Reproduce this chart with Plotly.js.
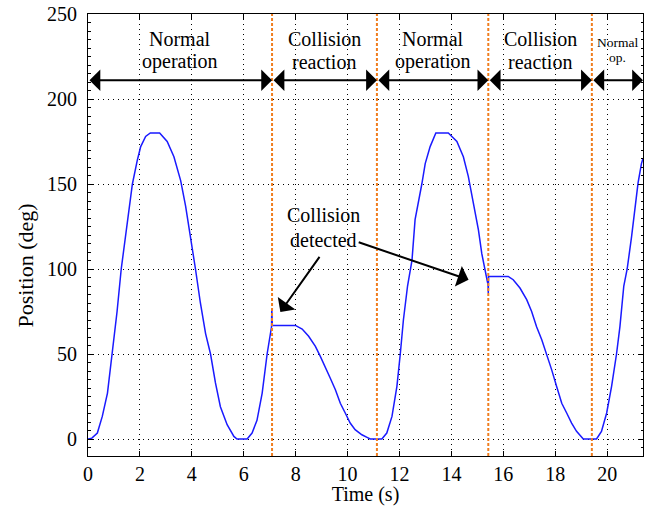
<!DOCTYPE html>
<html>
<head>
<meta charset="utf-8">
<script src="https://cdn.plot.ly/plotly-3.0.1.min.js"></script>
<style>html,body{margin:0;padding:0;background:#fff;}#chart{width:648px;height:506px;}</style>
</head>
<body>
<div id="chart"></div>
<script>
// ---- data ----
const timeS = [0, 0.15, 0.36, 0.55, 0.75, 0.94, 1.12, 1.28, 1.45, 1.60, 1.71, 1.90, 2.03, 2.22, 2.40, 2.76, 3.05, 3.31, 3.57, 3.76, 3.95, 4.14, 4.33, 4.53, 4.72, 4.91, 5.10, 5.36, 5.62, 5.74, 6.13, 6.32, 6.51, 6.71, 6.90, 7.03, 7.07, 7.08, 7.10, 7.99, 8.25, 8.50, 8.76, 8.95, 9.14, 9.33, 9.53, 9.72, 9.91, 10.10, 10.29, 10.55, 10.75, 10.87, 11.32, 11.51, 11.71, 11.90, 12.03, 12.15, 12.31, 12.48, 12.60, 12.73, 12.86, 12.99, 13.18, 13.40, 13.88, 14.21, 14.46, 14.65, 14.85, 15.04, 15.17, 15.30, 15.36, 15.41, 15.42, 15.43, 16.19, 16.38, 16.64, 16.90, 17.09, 17.28, 17.48, 17.67, 17.86, 18.05, 18.25, 18.44, 18.63, 18.82, 19.08, 19.59, 19.78, 19.98, 20.17, 20.36, 20.49, 20.64, 20.77, 20.94, 21.07, 21.19, 21.32, 21.38];
const positionDeg = [0, 0.5, 3.5, 13.3, 27, 50, 75, 100, 119, 139, 150, 164, 172, 178, 180, 180, 175, 166, 152, 137, 119, 100, 80, 62, 50, 33, 19, 8.4, 1.5, 0, 0, 3.5, 11, 27, 50, 62, 66, 76.5, 66.8, 66.8, 64.7, 60.4, 54.5, 48.6, 42.7, 35.9, 29, 21, 15.3, 9.4, 5.5, 2.5, 1, 0, 0, 3.5, 13.3, 31, 50, 70, 90, 105, 129, 139, 150, 162, 172, 180, 180, 175, 166, 154.5, 139, 123, 109, 100, 95.6, 90.7, 85.9, 95.6, 95.6, 93.7, 88.8, 82, 75, 66, 58.4, 50, 40.8, 31, 21, 15.3, 9.4, 4.5, 0, 0, 4.5, 15.3, 31, 50, 66, 90, 100, 119, 135, 150.6, 162, 165];

const phaseBounds = [0, 7.09, 11.13, 15.42, 19.41, 21.38];
const phaseLine1 = ["Normal", "Collision", "Normal", "Collision", "Normal"];
const phaseLine2 = ["operation", "reaction", "operation", "reaction", "op."];
const phaseSmall = [false, false, false, false, true];
const phaseArrowY = 211;

const xTickVals = [0, 2, 4, 6, 8, 10, 12, 14, 16, 18, 20];
const yTickVals = [0, 50, 100, 150, 200, 250];

const xTitle = "Time (s)";
const yTitle = "Position (deg)";
const yTitleCenter = 102;

const noteLines = ["Collision", "detected"];
const noteXY = [9.07, 132, 117];
// arrows: [tailX, tailY, tipX, tipY]
const noteArrows = [[8.96, 108, 7.41, 74.7], [10.37, 116, 14.66, 93.7]];

// ---- drawing ----
const FONT = "Liberation Serif, Times New Roman, serif";
const trace = {
  x: timeS, y: positionDeg, type: "scatter", mode: "lines",
  line: {color: "#1a1aff", width: 1.5}, hoverinfo: "skip"
};

const shapes = phaseBounds.slice(1, -1).map(b => ({
  type: "line", xref: "x", yref: "paper", x0: b, x1: b, y0: 0, y1: 1,
  line: {color: "#f07d1e", width: 2, dash: "3px,2px"}, layer: "above"
}));

const annotations = [];
for (let i = 0; i < phaseBounds.length - 1; i++) {
  const a = phaseBounds[i], b = phaseBounds[i + 1], mid = (a + b) / 2;
  annotations.push({
    x: b, y: phaseArrowY, ax: a, ay: phaseArrowY, axref: "x", ayref: "y", xref: "x", yref: "y",
    text: "", showarrow: true, arrowhead: 1, startarrowhead: 1, arrowside: "end+start",
    arrowsize: 1.8, startarrowsize: 1.8, arrowwidth: 2, arrowcolor: "#000", standoff: 0, startstandoff: 0
  });
  const fs = phaseSmall[i] ? 13.5 : 20;
  const y1 = phaseSmall[i] ? 233.5 : 235.5;
  const y2 = phaseSmall[i] ? 224.5 : 222;
  annotations.push({x: mid, y: y1, xref: "x", yref: "y", text: phaseLine1[i], showarrow: false,
    font: {family: FONT, size: fs, color: "#000"}, xanchor: "center", yanchor: "middle"});
  annotations.push({x: mid, y: y2, xref: "x", yref: "y", text: phaseLine2[i], showarrow: false,
    font: {family: FONT, size: fs, color: "#000"}, xanchor: "center", yanchor: "middle"});
}
annotations.push({x: noteXY[0], y: noteXY[1], xref: "x", yref: "y", text: noteLines[0], showarrow: false,
  font: {family: FONT, size: 20, color: "#000"}, xanchor: "center", yanchor: "middle"});
annotations.push({x: noteXY[0], y: noteXY[2], xref: "x", yref: "y", text: noteLines[1], showarrow: false,
  font: {family: FONT, size: 20, color: "#000"}, xanchor: "center", yanchor: "middle"});
noteArrows.forEach(ar => annotations.push({
  x: ar[2], y: ar[3], ax: ar[0], ay: ar[1], axref: "x", ayref: "y", xref: "x", yref: "y",
  text: "", showarrow: true, arrowhead: 1, arrowsize: 1.8, arrowwidth: 2, arrowcolor: "#000", standoff: 0
}));
// y-axis title (placed as in the reference, slightly below the axis centre)
annotations.push({x: -0.112, y: yTitleCenter, xref: "paper", yref: "y", text: yTitle, showarrow: false,
  textangle: -90, font: {family: FONT, size: 22, color: "#000"}, xanchor: "center", yanchor: "middle"});

const axisCommon = {
  showline: true, linecolor: "#000", linewidth: 1, mirror: "ticks",
  ticks: "inside", ticklen: 5, tickcolor: "#000", tickwidth: 1,
  showgrid: true, gridcolor: "#000", gridwidth: 1, griddash: "1px,4px",
  zeroline: false, tickfont: {family: FONT, size: 20, color: "#000"}
};

const layout = {
  width: 648, height: 506,
  margin: {l: 88, r: 5, t: 14, b: 50},
  paper_bgcolor: "#fff", plot_bgcolor: "#fff",
  showlegend: false,
  xaxis: Object.assign({}, axisCommon, {
    range: [0, 21.38], tickvals: xTickVals, ticktext: xTickVals.map(String),
    title: {text: xTitle, font: {family: FONT, size: 20, color: "#000"}, standoff: 4}
  }),
  yaxis: Object.assign({}, axisCommon, {
    range: [-10, 250], tickvals: yTickVals, ticktext: yTickVals.map(String),
    ticklabelstandoff: 6,
    minor: {dtick: 5, ticks: "inside", ticklen: 2.5, tickcolor: "#000", showgrid: false}
  }),
  shapes: shapes,
  annotations: annotations
};

Plotly.newPlot("chart", [trace], layout, {displayModeBar: false, staticPlot: true});
</script>
</body>
</html>
